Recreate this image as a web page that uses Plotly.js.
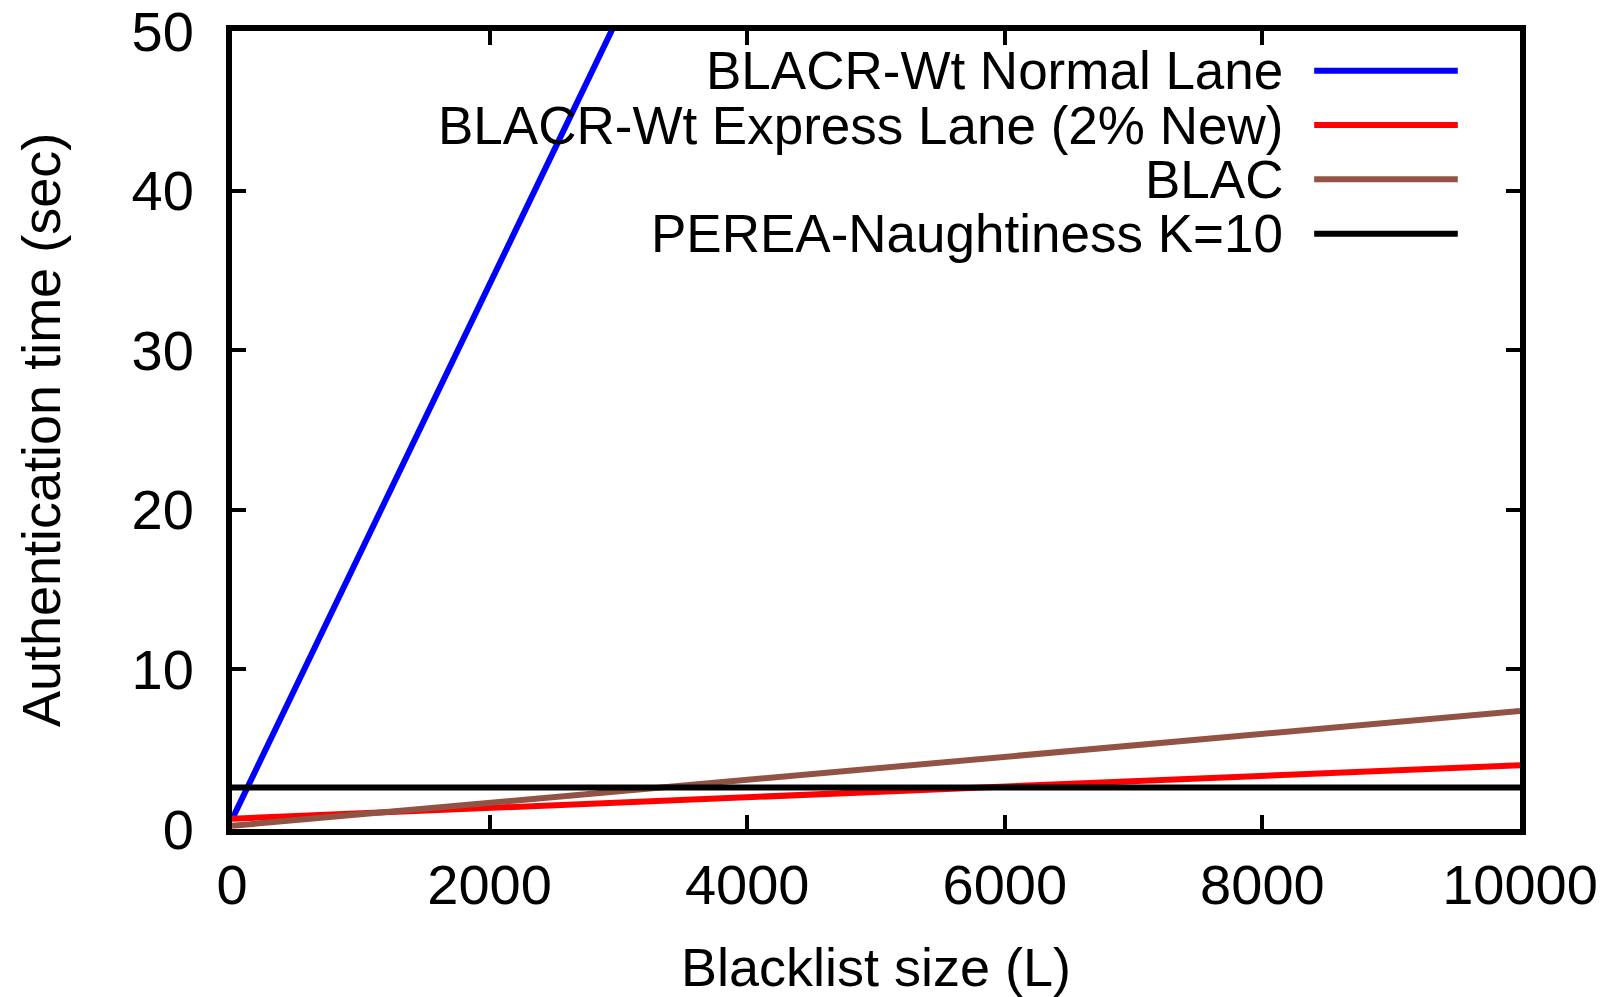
<!DOCTYPE html>
<html>
<head>
<meta charset="utf-8">
<script src="https://cdn.plot.ly/plotly-3.0.1.min.js"></script>
<style>html,body{margin:0;padding:0;background:#fff;}#chart{width:1615px;height:997px;}</style>
</head>
<body>
<div id="chart"></div>
<script>
// Data
var seriesNames = ["BLACR-Wt Normal Lane", "BLACR-Wt Express Lane (2% New)", "BLAC", "PEREA-Naughtiness K=10"];
var seriesColors = ["#0000ff", "#ff0000", "#935344", "#000000"];

var blacrNormalX = [0, 500, 1000, 1500, 2000, 2500, 3000];
var blacrNormalY = [0.6, 9.0, 17.4, 25.8, 34.2, 42.5, 50.9];

var blacrExpressX = [0, 2000, 4000, 6000, 8000, 10000];
var blacrExpressY = [0.65, 1.32, 1.99, 2.66, 3.33, 4.0];

var blacX = [0, 2000, 4000, 6000, 8000, 10000];
var blacY = [0.2, 1.64, 3.08, 4.52, 5.96, 7.4];

var pereaX = [0, 10000];
var pereaY = [2.6, 2.6];

var xTickVals = [0, 2000, 4000, 6000, 8000, 10000];
var xTickText = ["0", "2000", "4000", "6000", "8000", "10000"];
var yTickVals = [0, 10, 20, 30, 40, 50];
var yTickText = ["0", "10", "20", "30", "40", "50"];

var FONT = "Liberation Sans, Arial, Helvetica, sans-serif";
var LW = 6;

var xs = [blacrNormalX, blacrExpressX, blacX, pereaX];
var ys = [blacrNormalY, blacrExpressY, blacY, pereaY];
var traces = [];
for (var i = 0; i < 4; i++) {
  traces.push({
    x: xs[i], y: ys[i], type: "scatter", mode: "lines", name: seriesNames[i],
    line: {color: seriesColors[i], width: LW}, showlegend: false, hoverinfo: "skip"
  });
}

// Legend (gnuplot-style: right-aligned text with sample line on its right)
var legTextX = 0.8172, legLineX0 = 0.8402, legLineX1 = 0.9517;
var legRowsY = [0.9502, 0.8822, 0.8141, 0.7460];
var annotations = [], shapes = [];
for (var j = 0; j < 4; j++) {
  annotations.push({
    xref: "paper", yref: "paper", x: legTextX, y: legRowsY[j],
    xanchor: "right", yanchor: "middle", showarrow: false,
    text: seriesNames[j], font: {family: FONT, size: 53, color: "#000"}
  });
  shapes.push({
    type: "line", xref: "paper", yref: "paper",
    x0: legLineX0, x1: legLineX1, y0: legRowsY[j], y1: legRowsY[j],
    line: {color: seriesColors[j], width: LW}
  });
}

var axisCommon = {
  showline: true, linecolor: "#000", linewidth: 6, mirror: "ticks",
  ticks: "inside", ticklen: 14, tickwidth: 4, tickcolor: "#000",
  showgrid: false, zeroline: false, ticklabeloverflow: "allow",
  tickfont: {family: FONT, size: 56, color: "#000"}
};

var layout = {
  width: 1615, height: 997,
  margin: {l: 231.5, r: 94.5, t: 31, b: 168.3, pad: 0},
  paper_bgcolor: "#fff", plot_bgcolor: "#fff",
  font: {family: FONT, color: "#000"},
  xaxis: Object.assign({}, axisCommon, {
    range: [0, 10000], tickvals: xTickVals, ticktext: xTickText, ticklabelstandoff: 2,
    title: {text: "Blacklist size (L)", font: {family: FONT, size: 54, color: "#000"}, standoff: 46}
  }),
  yaxis: Object.assign({}, axisCommon, {
    range: [0, 50], tickvals: yTickVals, ticktext: yTickText, ticklabelstandoff: 21,
    title: {text: "Authentication time (sec)", font: {family: FONT, size: 54, color: "#000"}, standoff: 56}
  }),
  annotations: annotations,
  shapes: shapes,
  showlegend: false
};

Plotly.newPlot("chart", traces, layout, {displayModeBar: false, staticPlot: true});
</script>
</body>
</html>
